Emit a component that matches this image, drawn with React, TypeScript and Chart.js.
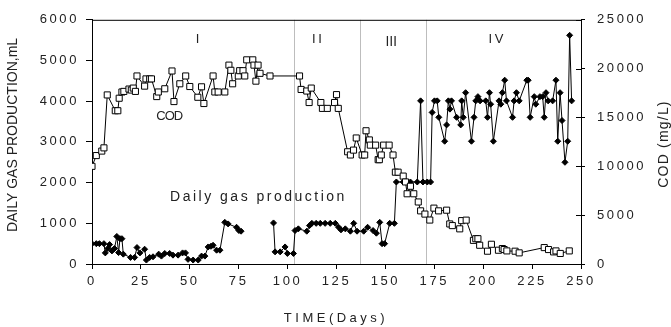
import React, { useEffect, useRef } from 'react';
import { Chart, registerables } from 'chart.js';

Chart.register(...registerables);

const FONT = '"Liberation Sans", Arial, sans-serif';

// COD (mg/L), open squares, right axis
const codDays = [0, 2.2, 5.0, 6.1, 7.8, 11.9, 13.2, 13.9, 15.3, 16.3, 18.9, 20.1, 21.1, 22.2, 23.0, 26.9, 27.6, 29.5, 30.4, 33.1, 33.9, 37.2, 40.9, 41.9, 44.9, 47.9, 50.0, 54.1, 56.0, 57.2, 61.9, 62.8, 64.5, 67.9, 70.0, 71.0, 71.9, 74.8, 75.5, 77.2, 78.1, 79.1, 82.2, 82.8, 83.8, 84.9, 85.9, 91.0, 106.1, 106.9, 109.8, 111.0, 112.1, 117.0, 117.8, 120.3, 124.0, 125.0, 125.9, 130.7, 132.1, 133.7, 135.1, 138.1, 139.4, 140.1, 141.8, 142.3, 145.0, 146.3, 146.9, 147.9, 149.1, 151.9, 153.9, 155.1, 156.5, 159.1, 160.3, 161.1, 162.8, 164.5, 166.8, 168.0, 170.2, 172.7, 174.8, 177.2, 181.3, 182.9, 184.2, 188.0, 189.0, 191.3, 195.0, 196.2, 197.3, 198.2, 202.2, 204.2, 207.8, 209.8, 210.7, 212.1, 216.3, 218.4, 231.2, 233.4, 236.0, 237.2, 239.4, 244.0];
const codValues = [10000, 11100, 11560, 11890, 17310, 15690, 15690, 16970, 17610, 17670, 17910, 17810, 18010, 17670, 19250, 18210, 18950, 18950, 18950, 17140, 17610, 17940, 19760, 16630, 18450, 19250, 18170, 17070, 18140, 16430, 19250, 17610, 17610, 17610, 20360, 19830, 18450, 19250, 19790, 19790, 19250, 20900, 20900, 20360, 18720, 20360, 19520, 19250, 19250, 17870, 17710, 16530, 18010, 16530, 15930, 15930, 16530, 17340, 15930, 11490, 11160, 11660, 12900, 11160, 11160, 13640, 12700, 12170, 12170, 10680, 10680, 11160, 12170, 12170, 11160, 9400, 9400, 9000, 8400, 7190, 7960, 7190, 6350, 5440, 5110, 4500, 5720, 5440, 5510, 4100, 3930, 3600, 4440, 4490, 2420, 2590, 2590, 1920, 1310, 2020, 1410, 1580, 1480, 1340, 1310, 1140, 1680, 1480, 1240, 1340, 1080, 1340];

// Daily gas production (mL), filled diamonds, left axis (null = gap)
const gasDays = [0, 2.2, 3.8, 6.1, 6.8, 8.1, 9.0, 10.2, 11.5, 12.7, 13.6, 14.3, 15.3, 16.0, 19.7, 21.8, 23.0, 24.5, 26.9, 27.8, 29.5, 31.2, 34.1, 35.5, 37.2, 39.7, 41.4, 44.0, 46.3, 47.8, 49.1, 51.7, 54.3, 56.0, 57.7, 59.4, 60.8, 61.9, 63.7, 65.4, 67.9, 69.6, 73.9, 75.1, 76.2, 84, 92.8, 93.6, 96.2, 98.7, 99.9, 103.0, 103.8, 105.5, 109.8, 111.2, 112.4, 114.6, 116.7, 119.2, 121.8, 124.4, 126.1, 127.3, 129.5, 132.1, 133.8, 135.5, 138.9, 140.9, 143.7, 145.4, 147.1, 148.3, 149.6, 152.2, 154.6, 155.6, 159.1, 160.8, 162.8, 166.3, 168.0, 169.2, 171.4, 173.1, 173.9, 175.1, 176.5, 177.3, 180.3, 181.3, 182.2, 183.0, 183.8, 186.4, 188.5, 189.0, 189.8, 191.0, 194.0, 195.3, 196.2, 197.3, 198.4, 201.3, 202.2, 203.2, 203.8, 205.2, 208.1, 209.0, 209.8, 211.0, 211.9, 215.0, 215.8, 217.0, 218.4, 222.3, 223.0, 224.0, 226.1, 226.9, 229.0, 230.4, 231.2, 232.1, 233.2, 235.5, 237.2, 238.1, 239.3, 240.3, 241.8, 243.2, 244.2, 245.2];
const gasValues = [500, 500, 500, 500, 273, 380, 477, 322, 380, 677, 280, 622, 622, 242, 162, 162, 404, 273, 363, 97, 162, 177, 242, 194, 259, 259, 218, 218, 273, 273, 114, 97, 97, 194, 194, 419, 435, 460, 339, 339, 1023, 985, 902, 822, 806, null, 1009, 298, 298, 419, 259, 259, 822, 864, 806, 943, 999, 999, 999, 999, 999, 999, 902, 839, 864, 806, 999, 806, 806, 902, 822, 757, 1023, 500, 500, 999, 999, 2015, 2015, 2015, 2015, 2015, 4008, 2015, 2015, 2015, 3725, 4008, 4008, 3604, 3016, 3418, 4008, 3805, 4008, 3604, 3418, 4008, 3604, 4209, 3016, 3604, 4008, 4112, 4008, 4008, 3604, 4209, 3926, 3016, 4008, 3926, 4209, 4516, 4008, 3604, 4008, 4209, 4008, 4516, 4516, 3604, 4112, 3926, 4112, 4112, 3604, 4209, 4008, 4008, 4516, 3016, 4209, 3525, 2499, 3016, 5619, 4008];

const phaseDays = [103.3, 136.8, 170.7];
const phaseLabels = ['I', 'II', '\u2162', 'IV'];
const phaseLabelDays = [54, 115, 153, 206.5];

const annot = {
  id: 'annot',
  beforeLayout(chart: any) {
    chart.ctx.letterSpacing = '2.6px';
  },
  beforeDraw(chart: any) {
    chart.ctx.letterSpacing = '2.6px';
  },
  beforeDatasetsDraw(chart: any) {
    const { ctx, chartArea, scales } = chart;
    ctx.save();
    ctx.strokeStyle = '#bdbdbd';
    ctx.lineWidth = 1;
    phaseDays.forEach((d) => {
      const x = Math.round(scales.x.getPixelForValue(d)) + 0.5;
      ctx.beginPath();
      ctx.moveTo(x, chartArea.top);
      ctx.lineTo(x, chartArea.bottom);
      ctx.stroke();
    });
    ctx.restore();
  },
  afterDraw(chart: any) {
    const { ctx, chartArea, scales } = chart;
    ctx.save();
    // top border
    ctx.strokeStyle = '#000';
    ctx.lineWidth = 1;
    ctx.beginPath();
    ctx.moveTo(chartArea.left, chartArea.top + 0.5);
    ctx.lineTo(chartArea.right, chartArea.top + 0.5);
    ctx.stroke();
    // inward ticks on right axis
    scales.y2.ticks.forEach((t: any) => {
      const y = Math.round(scales.y2.getPixelForValue(t.value)) + 0.5;
      ctx.beginPath();
      ctx.moveTo(chartArea.right - 5, y);
      ctx.lineTo(chartArea.right, y);
      ctx.stroke();
    });

    ctx.fillStyle = '#222';
    ctx.textBaseline = 'middle';
    ctx.textAlign = 'center';

    // phase labels
    phaseLabels.forEach((lab, i) => {
      const x = scales.x.getPixelForValue(phaseLabelDays[i]);
      if (lab === '\u2162') {
        ctx.letterSpacing = '0px';
        ctx.font = '13px "Noto Sans CJK SC", "DejaVu Sans", sans-serif';
        ctx.fillText(lab, x, 41);
      } else {
        ctx.letterSpacing = '2.6px';
        ctx.font = '13px ' + FONT;
        ctx.fillText(lab, x + 1.3, 39);
      }
    });

    // series labels
    ctx.letterSpacing = '2.5px';
    ctx.font = '14px ' + FONT;
    ctx.fillText('Daily gas production', scales.x.getPixelForValue(84.5) + 1.2, 197);
    ctx.letterSpacing = '-1px';
    ctx.font = '13px ' + FONT;
    ctx.fillText('COD', scales.x.getPixelForValue(39.5), 116);

    // axis titles
    ctx.letterSpacing = '3.5px';
    ctx.font = '13px ' + FONT;
    ctx.fillText('TIME(Days)', 336, 318);

    ctx.letterSpacing = '0px';
    ctx.font = '14px ' + FONT;
    ctx.save();
    ctx.translate(13, 135);
    ctx.rotate(-Math.PI / 2);
    ctx.fillText('DAILY GAS PRODUCTION,mL', 0, 0);
    ctx.restore();

    ctx.letterSpacing = '1.2px';
    ctx.save();
    ctx.translate(664, 144);
    ctx.rotate(-Math.PI / 2);
    ctx.fillText('COD (mg/L)', 0, 0);
    ctx.restore();

    ctx.restore();
  },
};

export default function App() {
  const ref = useRef<HTMLCanvasElement>(null);

  useEffect(() => {
    document.body.style.margin = '0';
    const canvas = ref.current;
    if (!canvas) return;

    const codData = codDays.map((d, i) => ({ x: d, y: codValues[i] }));
    const gasData = gasDays.map((d, i) => ({ x: d, y: gasValues[i] }));

    const tickFont = { family: FONT, size: 13 };
    const plain = (v: any) => String(v);
    const gridBase = {
      display: true,
      drawOnChartArea: false,
      drawTicks: true,
      tickColor: '#000',
      tickWidth: 1,
    };

    const chart = new Chart(canvas, {
      type: 'line',
      data: {
        datasets: [
          {
            label: 'COD',
            data: codData,
            yAxisID: 'y2',
            borderColor: '#000',
            borderWidth: 1,
            pointStyle: 'rect',
            pointRadius: 4.3,
            pointBackgroundColor: '#fff',
            pointBorderColor: '#000',
            pointBorderWidth: 1,
            tension: 0,
            order: 1,
          },
          {
            label: 'Daily gas production',
            data: gasData,
            yAxisID: 'y',
            borderColor: '#000',
            borderWidth: 1,
            pointStyle: 'rectRot',
            pointRadius: 3,
            pointBackgroundColor: '#000',
            pointBorderColor: '#000',
            pointBorderWidth: 1,
            tension: 0,
            spanGaps: false,
            order: 2,
          },
        ],
      },
      options: {
        responsive: false,
        animation: false,
        events: [],
        layout: { padding: { top: 16, left: 0, right: 0, bottom: 0 } },
        plugins: {
          legend: { display: false },
          tooltip: { enabled: false },
          title: { display: false },
        },
        scales: {
          x: {
            type: 'linear',
            min: 0,
            max: 250,
            ticks: { stepSize: 25, font: tickFont, color: '#222', padding: 5, maxRotation: 0, autoSkip: false, callback: plain },
            grid: { ...gridBase, tickLength: 5 },
            border: { display: true, color: '#000', width: 1 },
            afterFit: (s: any) => {
              s.height = 63;
            },
          },
          y: {
            type: 'linear',
            position: 'left',
            min: 0,
            max: 6000,
            ticks: { stepSize: 1000, font: tickFont, color: '#222', padding: 7, callback: plain },
            grid: { ...gridBase, tickLength: 6 },
            border: { display: true, color: '#000', width: 1 },
            afterFit: (s: any) => {
              s.width = 92;
            },
          },
          y2: {
            type: 'linear',
            position: 'right',
            min: 0,
            max: 25000,
            ticks: { stepSize: 5000, font: tickFont, color: '#222', padding: 12, callback: plain },
            grid: { ...gridBase, tickLength: 4 },
            border: { display: true, color: '#000', width: 1 },
            afterFit: (s: any) => {
              s.width = 90;
            },
          },
        },
      },
      plugins: [annot],
    } as any);

    return () => chart.destroy();
  }, []);

  return (
    <div style={{ width: 671, height: 327, position: 'relative', background: '#fff' }}>
      <canvas ref={ref} width={671} height={327} style={{ display: 'block', width: 671, height: 327 }} />
    </div>
  );
}
